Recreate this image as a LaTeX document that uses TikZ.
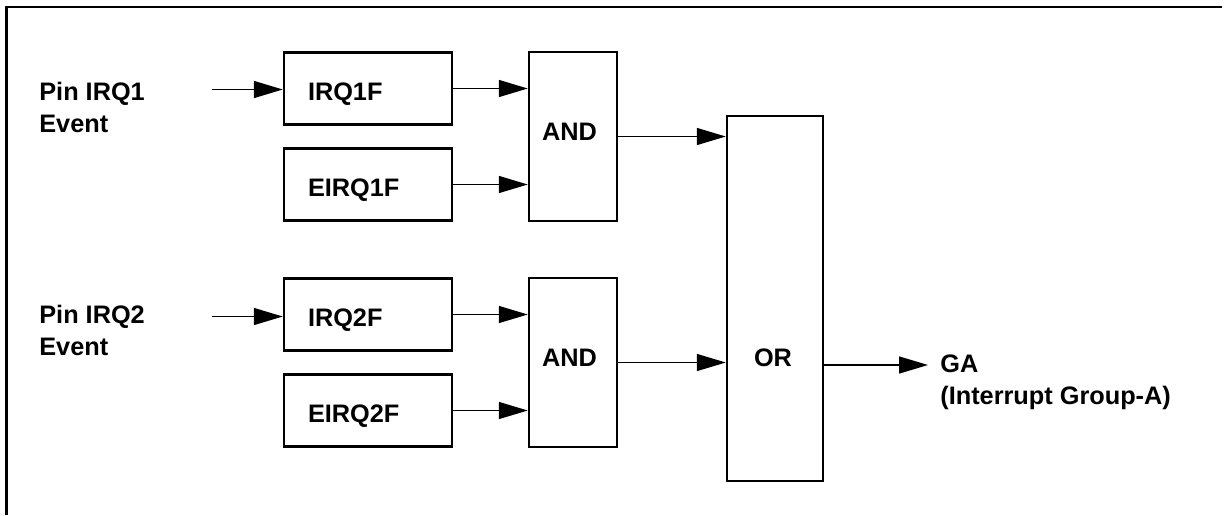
\documentclass[tikz,border=0pt]{standalone}
\usepackage{fontspec}
\setmainfont{Liberation Sans}
\usetikzlibrary{arrows.meta,positioning,calc}
\newcommand{\labelfont}{\fontsize{14.4}{18.2}\selectfont\bfseries}

\begin{document}
\begin{tikzpicture}
    % --- Styles ---
    \tikzstyle{regbox}=[draw, line width=1.4pt, text width=2.4cm, inner xsep=0.48cm, minimum height=1.44cm, align=left, text height=0.48cm, text depth=0pt, font=\labelfont]
    \tikzstyle{gatebox}=[draw, line width=1.4pt, minimum width=1.76cm, inner sep=0pt]
    \tikzstyle{gate_text}=[font=\labelfont, inner sep=0pt]
    \tikzstyle{side_text}=[font=\labelfont, align=left, inner sep=0pt, anchor=west]
    \tikzstyle{signal}=[line width=0.85pt, -{Triangle[length=0.58cm, width=0.34cm]}]

    \useasboundingbox (0,0) rectangle (24.5,-10.3);

    % --- 1. Frame ---
    \draw[line width=1.25pt] (0.13,-10.3) -- (0.13,-0.14) -- (24.44,-0.14);

    % --- 2. Flag registers ---
    \node[regbox] (irq1f) at (7.36,-1.77) {IRQ1F};
    \node[regbox] (eirq1f) at (7.36,-3.69) {EIRQ1F};
    \node[regbox] (irq2f) at (7.36,-6.29) {IRQ2F};
    \node[regbox] (eirq2f) at (7.36,-8.21) {EIRQ2F};

    % --- 3. Gates ---
    \node[gatebox, minimum height=3.38cm] (and1) at (11.46,-2.73) {};
    \node[gate_text] (and1txt) at (11.39,-2.64) {AND};
    \node[gatebox, minimum height=3.38cm] (and2) at (11.46,-7.25) {};
    \node[gate_text] (and2txt) at (11.39,-7.16) {AND};
    \node[gatebox, minimum width=1.92cm, minimum height=7.3cm] (orgate) at (15.5,-5.97) {};
    \node[gate_text] (ortxt) at (15.46,-7.16) {OR};

    % --- 4. Inputs and output ---
    \node[side_text] (pin1) at (0.78,-2.14) {Pin IRQ1\\Event};
    \node[side_text] (pin2) at (0.78,-6.6) {Pin IRQ2\\Event};
    \node[side_text] (ga) at (18.8,-7.64) {GA\\(Interrupt Group-A)};

    \coordinate (pin1end) at (4.24,-1.79);
    \coordinate (pin2end) at (4.24,-6.33);
    \coordinate (gaend) at (18.56,-7.3);

    % --- 5. Connections ---
    \draw[signal] (pin1end) -- (pin1end -| irq1f.west);
    \draw[signal] (pin2end) -- (pin2end -| irq2f.west);
    \draw[signal] (irq1f.east) -- (irq1f.east -| and1.west);
    \draw[signal] (eirq1f.east) -- (eirq1f.east -| and1.west);
    \draw[signal] (irq2f.east) -- (irq2f.east -| and2.west);
    \draw[signal] (eirq2f.east) -- (eirq2f.east -| and2.west);
    \draw[signal] (and1.east) -- (and1.east -| orgate.west);
    \draw[signal] (and2.east) -- (and2.east -| orgate.west);
    \draw[signal] (gaend -| orgate.east) -- (gaend);
\end{tikzpicture}
\end{document}
